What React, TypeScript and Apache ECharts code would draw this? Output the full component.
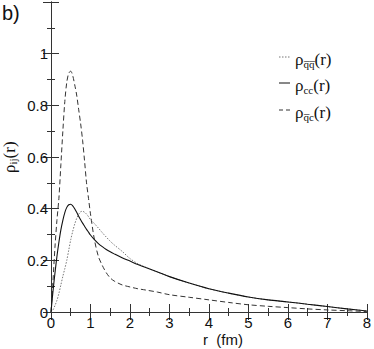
import React, { useEffect, useRef } from 'react';
import * as echarts from 'echarts';

const r = [0, 0.05, 0.1, 0.15, 0.2, 0.25, 0.3, 0.35, 0.4, 0.45, 0.5, 0.55, 0.6, 0.65, 0.7, 0.75, 0.8, 0.85, 0.9, 0.95, 1.0, 1.1, 1.2, 1.3, 1.4, 1.5, 1.6, 1.8, 2.0, 2.2, 2.4, 2.7, 3.0, 3.5, 4.0, 4.5, 5.0, 5.5, 6.0, 6.5, 7.0, 7.5, 8.0];

const rhoQQbar = [0, 0.008, 0.025, 0.045, 0.072, 0.105, 0.138, 0.168, 0.2, 0.24, 0.28, 0.312, 0.34, 0.362, 0.378, 0.388, 0.39, 0.386, 0.379, 0.369, 0.358, 0.342, 0.325, 0.307, 0.29, 0.274, 0.26, 0.235, 0.207, 0.187, 0.173, 0.155, 0.137, 0.112, 0.09, 0.073, 0.058, 0.047, 0.039, 0.03, 0.021, 0.012, 0.004];

const rhoCC = [0, 0.08, 0.15, 0.215, 0.27, 0.318, 0.355, 0.385, 0.405, 0.415, 0.417, 0.411, 0.4, 0.386, 0.371, 0.357, 0.344, 0.332, 0.32, 0.309, 0.298, 0.28, 0.265, 0.253, 0.242, 0.233, 0.225, 0.21, 0.197, 0.184, 0.172, 0.155, 0.137, 0.112, 0.09, 0.073, 0.058, 0.047, 0.039, 0.03, 0.021, 0.012, 0.004];

const rhoQbarC = [0, 0.12, 0.25, 0.355, 0.44, 0.57, 0.7, 0.815, 0.89, 0.925, 0.932, 0.915, 0.88, 0.84, 0.785, 0.73, 0.665, 0.585, 0.5, 0.44, 0.38, 0.28, 0.215, 0.18, 0.152, 0.132, 0.12, 0.105, 0.097, 0.09, 0.085, 0.077, 0.067, 0.057, 0.047, 0.037, 0.028, 0.022, 0.017, 0.012, 0.008, 0.005, 0.002];

const xTickValues = [0, 1, 2, 3, 4, 5, 6, 7, 8];
const yTickValues = [0, 0.2, 0.4, 0.6, 0.8, 1];

const pairs = (ys: number[]) => r.map((x, i) => [x, ys[i]]);

const SANS = "'Liberation Sans', Arial, sans-serif";
const SERIF_FAM = '"Liberation Serif", "DejaVu Serif", serif';

export default function App() {
  const ref = useRef<HTMLDivElement>(null);
  useEffect(() => {
    if (!ref.current) return;
    const chart = echarts.init(ref.current, null, { renderer: 'svg' });
    const axisLine = { show: true, lineStyle: { color: '#333', width: 1 } };
    const baseX = {
      type: 'value' as const,
      min: 0,
      max: 8,
      interval: 1,
      axisLine,
      axisTick: { show: true, inside: true, length: 8, lineStyle: { color: '#333' } },
      minorTick: { show: true, splitNumber: 2, length: 4, lineStyle: { color: '#333' } },
      splitLine: { show: false },
    };
    const baseY = {
      type: 'value' as const,
      min: 0,
      max: 1.2,
      interval: 0.2,
      axisLine,
      axisTick: { show: true, inside: true, length: 8, lineStyle: { color: '#333' } },
      minorTick: { show: true, splitNumber: 2, length: 4, lineStyle: { color: '#333' } },
      splitLine: { show: false },
    };
    const big = { font: '17px ' + SERIF_FAM, fontFamily: SERIF_FAM, fontSize: 17, fill: '#111' };
    const small = (pad: number) => ({ font: '11px ' + SERIF_FAM, fontFamily: SERIF_FAM, fontSize: 11, fill: '#111', padding: [pad, 0, 0, 0] });
    const legendRows = [
      { y: 57, dash: [1.5, 1.5], color: '#777', sub: 'q\u0305q\u0305' },
      { y: 83, dash: null, color: '#111', sub: 'cc' },
      { y: 110, dash: [4, 3], color: '#333', sub: 'q\u0305c' },
    ];
    const graphic: any[] = [];
    legendRows.forEach((row) => {
      graphic.push({
        type: 'line',
        shape: { x1: 279, y1: row.y, x2: 290, y2: row.y },
        style: { stroke: row.color, lineWidth: 1, lineDash: row.dash || undefined },
      });
      graphic.push({
        type: 'text',
        x: 295,
        y: row.y + 2,
        style: {
          text: '{r|\u03c1}{s|' + row.sub + '}{r|(r)}',
          verticalAlign: 'middle',
          font: '17px ' + SERIF_FAM,
          rich: { r: big, s: small(9) },
        },
      });
    });
    graphic.push({
      type: 'text',
      x: 2,
      y: 3,
      style: { text: 'b)', fontFamily: SANS, fontSize: 20, fill: '#111' },
    });
    graphic.push({
      type: 'text',
      x: 203,
      y: 332,
      style: { text: 'r  (fm)', fontFamily: SANS, fontSize: 15, fill: '#111' },
    });
    graphic.push({
      type: 'text',
      x: 9,
      y: 173,
      rotation: Math.PI / 2,
      style: {
        text: '{r|\u03c1}{s|ij}{r|(r)}',
        verticalAlign: 'middle',
        font: '17px ' + SERIF_FAM,
        rich: { r: big, s: small(8) },
      },
    });

    chart.setOption({
      animation: false,
      grid: { left: 51, right: 5, top: 2, bottom: 37, containLabel: false },
      xAxis: [
        {
          ...baseX,
          position: 'bottom',
          axisLabel: {
            show: true,
            fontFamily: SANS,
            fontSize: 15,
            color: '#111',
            margin: 3,
            formatter: (v: number) => (xTickValues.includes(v) ? String(v) : ''),
          },
        },
        { ...baseX, position: 'top', axisLabel: { show: false } },
      ],
      yAxis: [
        {
          ...baseY,
          position: 'left',
          axisLabel: {
            show: true,
            fontFamily: SANS,
            fontSize: 15,
            color: '#111',
            margin: 3,
            formatter: (v: number) => {
              const m = yTickValues.find((t) => Math.abs(t - v) < 1e-6);
              return m === undefined ? '' : String(m);
            },
          },
        },
        { ...baseY, position: 'right', axisLabel: { show: false } },
      ],
      graphic,
      series: [
        {
          name: 'qq',
          type: 'line',
          data: pairs(rhoQQbar),
          showSymbol: false,
          smooth: 0.3,
          lineStyle: { color: '#777', width: 1, type: [1.5, 1.5] },
          z: 3,
        },
        {
          name: 'cc',
          type: 'line',
          data: pairs(rhoCC),
          showSymbol: false,
          smooth: 0.3,
          lineStyle: { color: '#111', width: 1.1, type: 'solid' },
          z: 4,
        },
        {
          name: 'qc',
          type: 'line',
          data: pairs(rhoQbarC),
          showSymbol: false,
          smooth: 0.3,
          lineStyle: { color: '#333', width: 1, type: [5, 3] },
          z: 2,
        },
      ],
    });
    return () => chart.dispose();
  }, []);
  return <div ref={ref} style={{ width: 374, height: 349, position: 'absolute', left: 0, top: 0 }} />;
}
